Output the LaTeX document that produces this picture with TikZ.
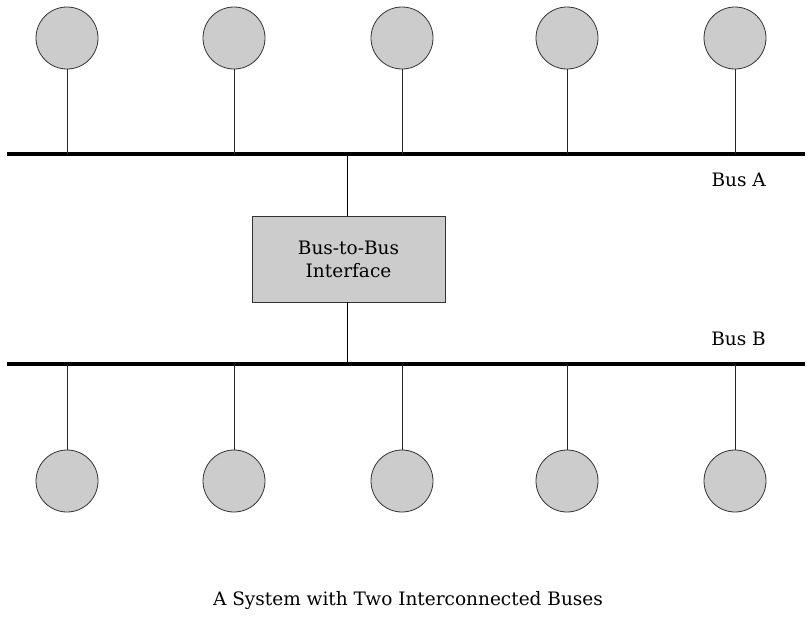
\documentclass[tikz,border=0pt]{standalone}
\usepackage{fontspec}
\setmainfont{DejaVu Serif}
\begin{document}
\begin{tikzpicture}[x=1pt,y=-1pt,
  dev/.style={circle,draw=black!80,fill=black!20,line width=0.8pt,minimum size=62pt,inner sep=0pt},
  bus/.style={line width=4pt},
  stem/.style={line width=0.8pt,draw=black!85},
  lbl/.style={font=\fontsize{18.5}{23}\selectfont,inner sep=0pt}]
\useasboundingbox (0,0) rectangle (810,616);
% buses
\coordinate (aL) at (7,154); \coordinate (aR) at (805,154);
\coordinate (bL) at (7,364); \coordinate (bR) at (805,364);
\draw[bus] (aL) -- (aR);
\draw[bus] (bL) -- (bR);
% devices
\foreach \i/\x in {1/67,2/234,3/402,4/567,5/735}{
  \node[dev] (t\i) at (\x,38) {};
  \coordinate (ta\i) at (\x,154);
  \draw[stem] (t\i.south) -- (ta\i);
  \node[dev] (b\i) at (\x,481) {};
  \coordinate (bb\i) at (\x,364);
  \draw[stem] (bb\i) -- (b\i.north);
}
% interface
\node[draw=black!80,fill=black!20,line width=0.8pt,minimum width=193pt,minimum height=86pt,
  align=center,lbl] (ifc) at (348.5,259) {Bus-to-Bus\\Interface};
\coordinate (ia) at (347,154); \coordinate (ib) at (347,364);
\draw[stem,draw=black] (ia) -- (ia |- ifc.north);
\draw[stem,draw=black] (ib |- ifc.south) -- (ib);
% labels
\node[lbl,anchor=east] (la) at (766,180) {Bus A};
\node[lbl,anchor=east] (lb) at (766,339) {Bus B};
\node[lbl] (cap) at (408,601) {A System with Two Interconnected Buses};
\end{tikzpicture}
\end{document}
